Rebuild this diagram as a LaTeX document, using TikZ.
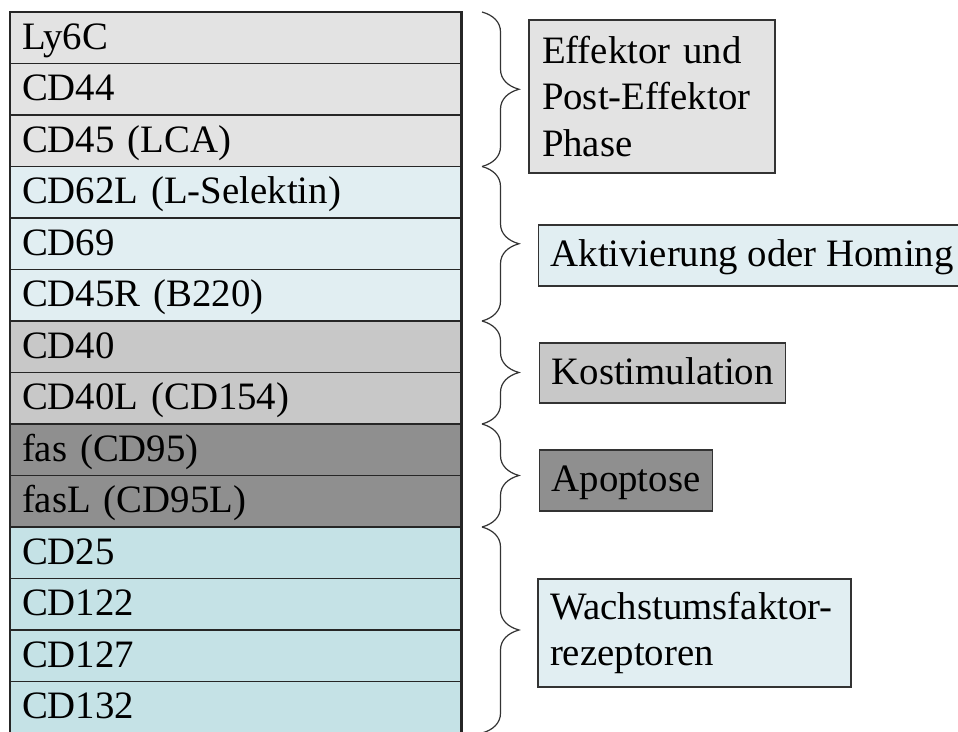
\documentclass[tikz,border=0pt]{standalone}
\usepackage{fontspec}
\setmainfont{Liberation Serif}
\usepackage{xcolor}
\usetikzlibrary{positioning}
\usetikzlibrary{decorations.pathreplacing}
\definecolor{grayA}{HTML}{E3E3E3}
\definecolor{grayB}{HTML}{C8C8C8}
\definecolor{grayC}{HTML}{8F8F8F}
\definecolor{blueA}{HTML}{E1EEF2}
\definecolor{blueB}{HTML}{C5E2E6}
\tikzset{
  row/.style={draw=black!85, line width=1.4pt, outer sep=0pt, minimum width=451.5pt,
    minimum height=51.5pt, text width=427.5pt, inner xsep=12pt, inner ysep=0pt,
    align=left, text height=30pt, text depth=7.5pt},
  lblbox/.style={draw=black!80, line width=1.2pt, inner xsep=12pt, align=left},
  oneline/.style={text height=30pt, text depth=7.5pt, inner ysep=0pt},
  grpbrace/.style={decorate, decoration={brace, amplitude=20pt, transform={yscale=1.85}},
    draw=black!80, line width=1.2pt}
}

\begin{document}
\begin{tikzpicture}[x=1pt, y=-1pt, font=\fontsize{38.8}{46.5}\selectfont]
  \useasboundingbox (0,0) rectangle (958,731);

	\node (ly6c) [row, fill=grayA, anchor=north west] at (10,12) {Ly6C};
	\node (cd44) [row, fill=grayA, below=0pt of ly6c] {CD44};
	\node (cd45) [row, fill=grayA, below=0pt of cd44] {CD45 (LCA)};
	\node (cd62l) [row, fill=blueA, below=0pt of cd45] {CD62L (L-Selektin)};
	\node (cd69) [row, fill=blueA, below=0pt of cd62l] {CD69};
	\node (cd45r) [row, fill=blueA, below=0pt of cd69] {CD45R (B220)};
	\node (cd40) [row, fill=grayB, below=0pt of cd45r] {CD40};
	\node (cd40l) [row, fill=grayB, below=0pt of cd40] {CD40L (CD154)};
	\node (fas) [row, fill=grayC, below=0pt of cd40l] {fas (CD95)};
	\node (fasl) [row, fill=grayC, below=0pt of fas] {fasL (CD95L)};
	\node (cd25) [row, fill=blueB, below=0pt of fasl] {CD25};
	\node (cd122) [row, fill=blueB, below=0pt of cd25] {CD122};
	\node (cd127) [row, fill=blueB, below=0pt of cd122] {CD127};
	\node (cd132) [row, fill=blueB, below=0pt of cd127] {CD132};

  \draw[black!85, line width=2.4pt] (ly6c.north west) rectangle (cd132.south east);

	\node (effektor) [lblbox, fill=grayA, minimum width=246pt, minimum height=153pt,
	  text width=220pt, inner xsep=13pt] at (652,96.5) {Effektor und\\Post-Effektor\\Phase};
	\node (aktiv) [lblbox, oneline, fill=blueA, minimum height=61pt, anchor=west]
	  at (538,255.5) {Aktivierung oder Homing};
	\node (kostim) [lblbox, oneline, fill=grayB, minimum height=60pt, anchor=west]
	  at (539,373) {Kostimulation};
	\node (apopt) [lblbox, oneline, fill=grayC, minimum height=61pt, anchor=west]
	  at (539,480.5) {Apoptose};
	\node (wachstum) [lblbox, fill=blueA, minimum width=313pt, minimum height=108pt,
	  text width=289pt] at (694.5,633) {Wachstumsfaktor-\\rezeptoren};

  \coordinate (bx) at (482,0);
  \draw[grpbrace] (ly6c.north -| bx) -- (cd45.south -| bx);
  \draw[grpbrace] (cd62l.north -| bx) -- (cd45r.south -| bx);
  \draw[grpbrace] (cd40.north -| bx) -- (cd40l.south -| bx);
  \draw[grpbrace] (fas.north -| bx) -- (fasl.south -| bx);
  \draw[grpbrace] (cd25.north -| bx) -- (cd132.south -| bx);

\end{tikzpicture}
\end{document}
